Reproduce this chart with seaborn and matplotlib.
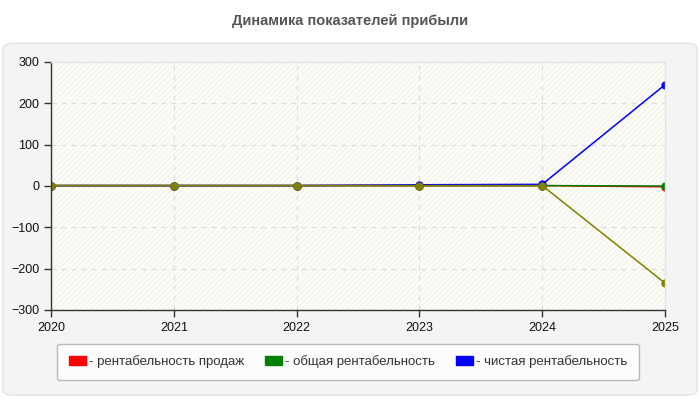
import matplotlib
matplotlib.use("Agg")
import matplotlib.pyplot as plt
import seaborn as sns
import pandas as pd
from matplotlib.patches import FancyBboxPatch, Rectangle, Patch

years = [2020, 2021, 2022, 2023, 2024, 2025]
sales_margin = [1, 1, 1, 1, 1, -2]
total_margin = [1, 1, 1, 1, 1, 0]
net_margin = [1, 1, 1, 3, 4, 245]
other_series = [1, 1, 1, 1, 1, -235]

labels = ["- рентабельность продаж", "- общая рентабельность", "- чистая рентабельность", "other"]
colors = ["#ff0000", "#008000", "#0000ff", "#808000"]

rows = []
for lab, vals in zip(labels, [sales_margin, total_margin, net_margin, other_series]):
    for y, v in zip(years, vals):
        rows.append({"year": y, "value": v, "series": lab})
df = pd.DataFrame(rows)

sns.set_theme(style="white")
plt.rcParams['font.family'] = ['Liberation Sans', 'DejaVu Sans']

fig = plt.figure(figsize=(7, 4), dpi=100, facecolor="white")
panel = FancyBboxPatch((0.004, 0.012), 0.992, 0.88, boxstyle="round,pad=0,rounding_size=0.015",
                       transform=fig.transFigure, facecolor="#f4f4f4", edgecolor="#e4e4e4",
                       linewidth=1, zorder=-5)
fig.patches.append(panel)

ax = fig.add_axes([0.073, 0.225, 0.877, 0.62])
ax.set_zorder(1)
ax.set_facecolor("#fdfdf8")
ax.add_patch(Rectangle((0, 0), 1, 1, transform=ax.transAxes, fill=False, hatch="//////",
                       edgecolor="#f3f3ef", linewidth=0, zorder=0))

sns.lineplot(data=df, x="year", y="value", hue="series", hue_order=labels,
             palette=dict(zip(labels, colors)), marker="o", markersize=6,
             markeredgewidth=0, linewidth=1.1, legend=False, ax=ax)

ax.set_xlim(2020, 2025)
ax.set_ylim(-300, 300)
ax.set_xticks(years)
ax.set_yticks([-300, -200, -100, 0, 100, 200, 300])
ax.set_xlabel("")
ax.set_ylabel("")
ax.grid(True, linestyle=(0, (4, 4)), color="#dddddd", linewidth=0.9)
ax.tick_params(axis="both", which="both", direction="out", length=5, width=1,
               color="#333333", labelsize=9, labelcolor="#111111", bottom=True, left=True)
for s in ["left", "bottom"]:
    ax.spines[s].set_color("#333333")
    ax.spines[s].set_linewidth(1)
for s in ["top", "right"]:
    ax.spines[s].set_color("#e4e4e4")
    ax.spines[s].set_linewidth(1)

fig.text(0.5, 0.948, "Динамика показателей прибыли", ha="center", va="center",
         fontsize=10.5, fontweight="bold", color="#555555")

handles = [Patch(facecolor=c, edgecolor=c, label=l) for c, l in zip(colors[:3], labels[:3])]
leg = fig.legend(handles=handles, loc="center", bbox_to_anchor=(0.497, 0.095), ncol=3,
                 frameon=True, fontsize=9.5, handlelength=1.3, handleheight=0.7,
                 handletextpad=0.2, columnspacing=1.6, borderpad=0.9,
                 fancybox=True)
leg.get_frame().set_facecolor("white")
leg.get_frame().set_edgecolor("#aaaaaa")
for t in leg.get_texts():
    t.set_color("#333333")

fig.savefig("out.png", dpi=100, facecolor="white")
